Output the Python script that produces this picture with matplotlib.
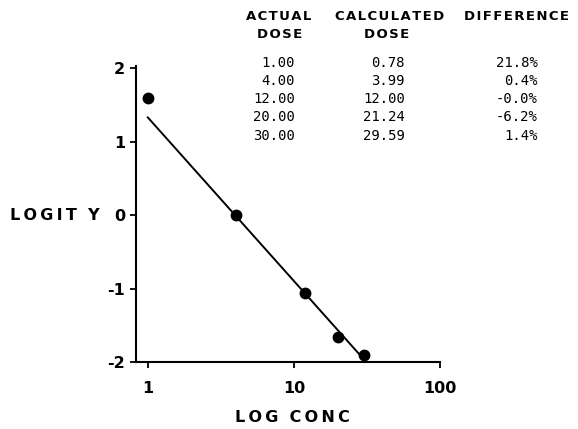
import numpy as np
import matplotlib.pyplot as plt

# measured points (dose vs logit y)
conc = [1, 4, 12, 20, 30]
logit_y = [1.59, 0.0, -1.06, -1.66, -1.90]

# fitted line end points
fit_x = [1, 30]
fit_y = [1.33, -1.96]

# table
actual = ["1.00", "4.00", "12.00", "20.00", "30.00"]
calculated = ["0.78", "3.99", "12.00", "21.24", "29.59"]
difference = ["21.8%", "0.4%", "-0.0%", "-6.2%", "1.4%"]


def spaced(s, gap='\u2009'):
    # letter-spaced caps like the original
    return gap.join(s)


W, H = 578, 429
fig = plt.figure(figsize=(W / 100, H / 100), dpi=100)
ax = fig.add_axes([136 / W, 1 - 362 / H, (440 - 136) / W, (362 - 66) / H])

ax.plot(fit_x, fit_y, color='black', linewidth=1.4)
ax.plot(conc, logit_y, 'o', color='black', markersize=7.5)

ax.set_xscale('log')
ax.set_xlim(0.83, 100)
ax.set_ylim(-2, 2.03)
ax.set_xticks([1, 10, 100])
ax.set_xticklabels(['1', '10', '100'])
ax.minorticks_off()
ax.set_yticks([-2, -1, 0, 1, 2])
ax.set_yticklabels(['-2', '-1', '0', '1', '2'])
for s in ['top', 'right']:
    ax.spines[s].set_visible(False)
for s in ['left', 'bottom']:
    ax.spines[s].set_linewidth(1.5)
ax.tick_params(direction='out', length=4, width=1.3, labelsize=11.5, pad=4)
for lab in ax.get_xticklabels() + ax.get_yticklabels():
    lab.set_fontweight('bold')
ax.tick_params(axis='x', pad=10)

fig.text(10 / W, 1 - 215 / H, spaced('LOGIT') + '  ' + 'Y', fontsize=11.5,
         fontweight='bold', ha='left', va='center')
fig.text(292 / W, 1 - 418 / H, spaced('LOG') + '  ' + spaced('CONC'),
         fontsize=11.5, fontweight='bold', ha='center', va='center')

# table headers
hdr = dict(fontsize=9.5, fontweight='bold', va='center', ha='center')
fig.text(279 / W, 1 - 16 / H, spaced('ACTUAL', '\u200a'), **hdr)
fig.text(280 / W, 1 - 35 / H, spaced('DOSE', '\u200a'), **hdr)
fig.text(390 / W, 1 - 16 / H, spaced('CALCULATED', '\u200a'), **hdr)
fig.text(387 / W, 1 - 35 / H, spaced('DOSE', '\u200a'), **hdr)
fig.text(516 / W, 1 - 16 / H, spaced('DIFFERENCE', '\u200a'), **hdr)

row_y = [63, 81, 99, 117, 136]
cell = dict(fontsize=10, family='DejaVu Sans Mono', va='center', ha='right')
for i, y in enumerate(row_y):
    fig.text(295 / W, 1 - y / H, actual[i], **cell)
    fig.text(405 / W, 1 - y / H, calculated[i], **cell)
    fig.text(538 / W, 1 - y / H, difference[i], **cell)

fig.savefig('out.png', dpi=100)
